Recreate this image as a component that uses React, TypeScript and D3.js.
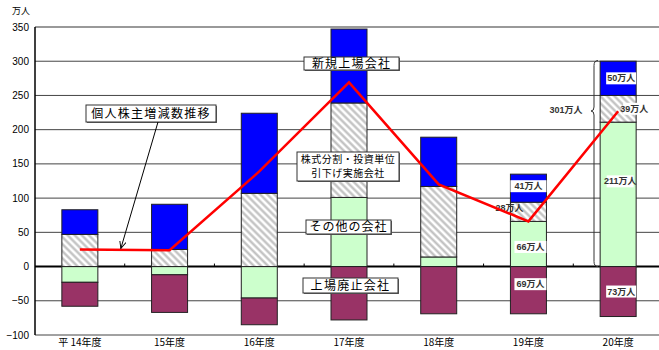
import React from "react";
import * as d3 from "d3";

const years = ["平 14年度", "15年度", "16年度", "17年度", "18年度", "19年度", "20年度"];
const newListing = [36, 66, 117, 108, 72, 41, 50];
const splitCompanies = [47, 25, 107, 138, 103, 28, 39];
const otherCompanies = [-23, -12, -46, 101, 14, 66, 211];
const delisted = [-35, -55, -39, -78, -69, -69, -73];
const yTicks = [-100, -50, 0, 50, 100, 150, 200, 250, 300, 350];

const W = 659;
const H = 350;
const FONT = "'Liberation Sans', Arial, 'Noto Sans CJK JP', sans-serif";
const JP = "'Noto Sans CJK JP', 'Liberation Sans', sans-serif";

const BLUE = "#0000FF";
const GREEN = "#CCFFCC";
const MAROON = "#993366";

export default function App() {
  const x = d3.scalePoint<string>().domain(years).range([35, 663]).padding(0.5);
  const y = d3.scaleLinear().domain([-100, 350]).range([335, 27]);
  const bw = 36;
  const step = x.step();

  const net = years.map((_, i) => newListing[i] + splitCompanies[i] + otherCompanies[i] + delisted[i]);

  type Seg = { x: number; y0: number; y1: number; fill: string };
  const segs: Seg[] = [];
  years.forEach((yr, i) => {
    const cx = x(yr)!;
    let pos = 0;
    let neg = 0;
    const push = (v: number, fill: string) => {
      if (v >= 0) {
        segs.push({ x: cx, y0: pos, y1: pos + v, fill });
        pos += v;
      } else {
        segs.push({ x: cx, y0: neg + v, y1: neg, fill });
        neg += v;
      }
    };
    push(otherCompanies[i], GREEN);
    push(splitCompanies[i], "url(#hatch)");
    push(newListing[i], BLUE);
    push(delisted[i], MAROON);
  });

  const line = d3
    .line<number>()
    .x((_, i) => x(years[i])!)
    .y((d) => y(d));

  const i19 = 5;
  const i20 = 6;
  const c19 = x(years[i19])!;
  const c20 = x(years[i20])!;
  const o19 = otherCompanies[i19];
  const o20 = otherCompanies[i20];
  type VL = { text: string; cx: number; cy: number; w: number; bg: boolean };
  const valueLabels: VL[] = [
    { text: `${newListing[i19]}万人`, cx: c19, cy: y(o19 + splitCompanies[i19] + newListing[i19] / 2) - 2, w: 36, bg: true },
    { text: `${splitCompanies[i19]}万人`, cx: c19 - 19, cy: y(o19 + splitCompanies[i19] / 2) - 4, w: 0, bg: false },
    { text: `${o19}万人`, cx: c19 + 2, cy: y(o19 / 2) + 3, w: 32, bg: true },
    { text: `${-delisted[i19]}万人`, cx: c19 + 2, cy: y(delisted[i19] / 2) - 6, w: 32, bg: true },
    { text: `${newListing[i20]}万人`, cx: c20 + 3, cy: y(o20 + splitCompanies[i20] + newListing[i20] / 2), w: 30, bg: true },
    { text: `${splitCompanies[i20]}万人`, cx: c20 + 16, cy: y(o20 + splitCompanies[i20] / 2), w: 22, bg: true },
    { text: `${o20}万人`, cx: c20 + 2, cy: y(o20 * 0.59), w: 27, bg: true },
    { text: `${-delisted[i20]}万人`, cx: c20 + 3, cy: y(delisted[i20] / 2), w: 30, bg: true },
  ];

  const total20 = newListing[i20] + splitCompanies[i20] + otherCompanies[i20] + 1;
  const bTop = y(total20);
  const bBot = y(0);
  const bTip = 111;
  const bx = 597;
  const brace = `M${bx + 1},${bTop} Q${bx - 3},${bTop} ${bx - 3},${bTop + 5} L${bx - 3},${bTip - 4} Q${bx - 3},${bTip} ${bx - 6},${bTip} Q${bx - 3},${bTip} ${bx - 3},${bTip + 4} L${bx - 3},${bBot - 5} Q${bx - 3},${bBot} ${bx + 1},${bBot}`;

  const boxes = [
    { lines: ["新規上場会社"], x0: 304, x1: 399, y0: 57, y1: 70, fs: 12, ls: 1.2, lh: 12 },
    { lines: ["株式分割・投資単位", "引下げ実施会社"], x0: 297, x1: 399, y0: 152, y1: 181, fs: 10, ls: 0.5, lh: 14.5 },
    { lines: ["その他の会社"], x0: 306, x1: 391, y0: 220, y1: 234, fs: 12, ls: 1, lh: 12 },
    { lines: ["上場廃止会社"], x0: 303, x1: 398, y0: 278, y1: 293, fs: 12, ls: 1.3, lh: 12 },
    { lines: ["個人株主増減数推移"], x0: 86, x1: 216, y0: 105, y1: 122, fs: 12, ls: 1.3, lh: 12 },
  ];

  return (
    <svg width={W} height={H} style={{ position: "absolute", left: 0, top: 0, background: "#fff" }}>
      <defs>
        <pattern id="hatch" patternUnits="userSpaceOnUse" width="5" height="5" patternTransform="rotate(-45)">
          <rect width="5" height="5" fill="#fff" />
          <line x1="1.5" y1="0" x2="1.5" y2="5" stroke="#bdbdbd" strokeWidth="2.2" />
        </pattern>
        <marker id="arrow" viewBox="0 0 10 10" refX="9" refY="5" markerWidth="8" markerHeight="8" orient="auto">
          <path d="M0,1 L9,5 L0,9" fill="none" stroke="#000" strokeWidth="1.2" />
        </marker>
      </defs>

      {yTicks.map((t) => (
        <line
          key={t}
          x1={35}
          x2={W}
          y1={y(t)}
          y2={y(t)}
          stroke={t === 0 ? "#000" : t === 350 ? "#777" : "#444"}
          strokeWidth={t === 0 ? 2 : t === 350 ? 1.5 : 1}
        />
      ))}
      {years.slice(1).map((yr) => (
        <line key={yr} x1={x(yr)! - step / 2} x2={x(yr)! - step / 2} y1={y(0)} y2={y(0) - 3} stroke="#000" strokeWidth={1} />
      ))}
      <line x1={35} x2={35} y1={y(350)} y2={y(-100)} stroke="#000" strokeWidth={1.5} />
      {yTicks.map((t) => (
        <text key={t} x={29} y={y(t) + 3.5} textAnchor="end" fontSize={10} fontFamily={FONT} fill="#000">
          {t < 0 ? `−${-t}` : t}
        </text>
      ))}
      <text x={12} y={14} fontSize={9} fontFamily={JP} fill="#000">万人</text>

      {segs.map((s, k) => (
        <rect
          key={k}
          x={s.x - bw / 2}
          y={y(s.y1)}
          width={bw}
          height={y(s.y0) - y(s.y1)}
          fill={s.fill}
          stroke="#222"
          strokeWidth={1}
        />
      ))}

      {years.map((yr) => (
        <text key={yr} x={x(yr)!} y={346} textAnchor="middle" fontSize={10} fontFamily={JP} fill="#000">
          {yr}
        </text>
      ))}

      {valueLabels.map((v, k) => (
        <g key={k}>
          {v.bg && <rect x={v.cx - v.w / 2} y={v.cy - 6} width={v.w} height={12} fill="#fff" />}
          <text x={v.cx} y={v.cy + 3} textAnchor="middle" fontSize={9} fontFamily={FONT} fill="#333" fontWeight="bold">
            {v.text}
          </text>
        </g>
      ))}

      <path d={brace} fill="none" stroke="#333" strokeWidth={1} />
      <text x={566} y={113} textAnchor="middle" fontSize={9} fontFamily={FONT} fill="#333" fontWeight="bold">
        {`${total20}万人`}
      </text>

      <path d={line(net) || ""} fill="none" stroke="#FF0000" strokeWidth={2.5} strokeLinejoin="miter" />

      {boxes.map((b, k) => (
        <g key={k}>
          <rect x={b.x0 + 1} y={b.y0 + 1} width={b.x1 - b.x0} height={b.y1 - b.y0} fill="#666" />
          <rect x={b.x0} y={b.y0} width={b.x1 - b.x0} height={b.y1 - b.y0} fill="#fff" stroke="#333" strokeWidth={1} />
          {b.lines.map((l, j) => (
            <text
              key={j}
              x={(b.x0 + b.x1) / 2}
              y={b.y0 + (b.y1 - b.y0) / 2 + (j - (b.lines.length - 1) / 2) * b.lh + b.fs * 0.36}
              textAnchor="middle"
              fontSize={b.fs}
              letterSpacing={b.ls}
              fontFamily={JP}
              fill="#000"
            >
              {l}
            </text>
          ))}
        </g>
      ))}

      <line x1={158} y1={122} x2={x(years[0])! + 41} y2={y(net[0]) - 1} stroke="#000" strokeWidth={1} markerEnd="url(#arrow)" />
    </svg>
  );
}
